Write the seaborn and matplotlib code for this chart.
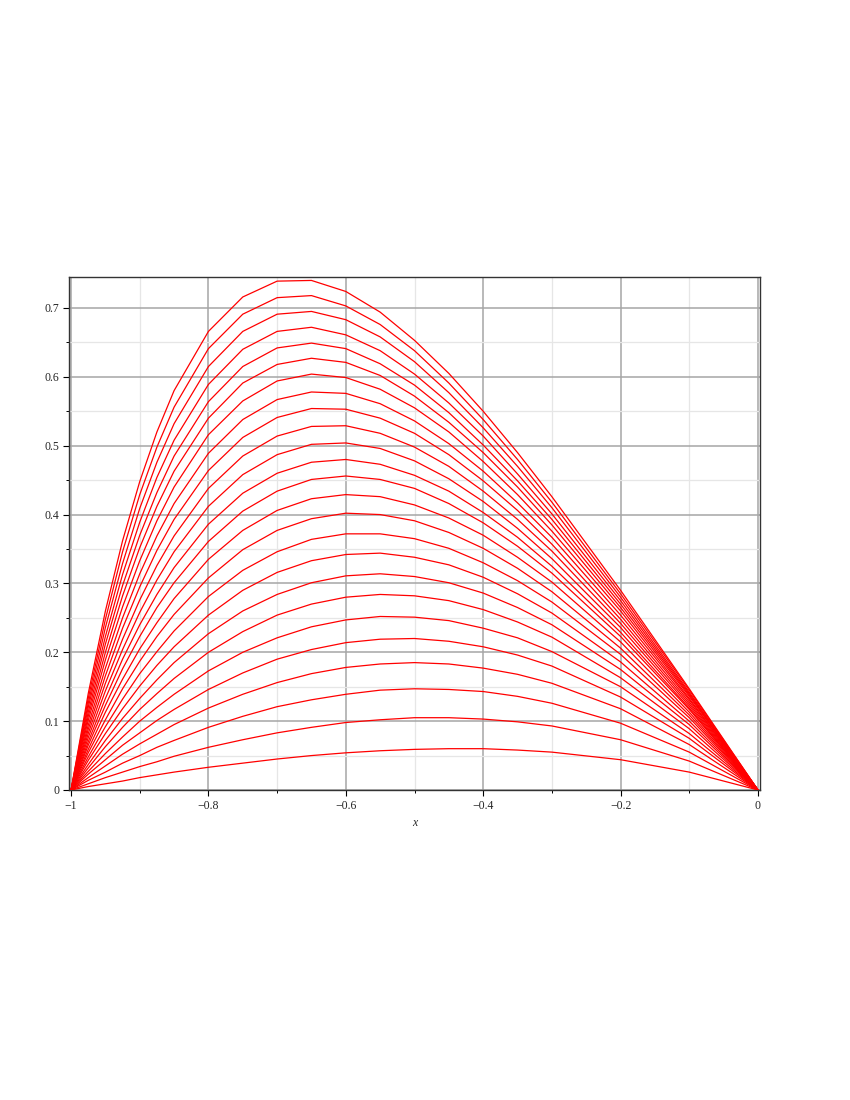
import matplotlib
matplotlib.use("Agg")
import matplotlib.pyplot as plt
from matplotlib.ticker import MultipleLocator
import pandas as pd
import seaborn as sns

# sample positions along x (both ends are 0 for every curve)
x_grid = [-1, -0.975, -0.95, -0.925, -0.9, -0.875, -0.85, -0.8, -0.75, -0.7, -0.65, -0.6,
          -0.55, -0.5, -0.45, -0.4, -0.35, -0.3, -0.2, -0.1, 0]

# curve values, bottom curve first
curve_01 = [0, .005, .009, .013, .018, .022, .026, .033, .039, .045, .050, .054, .057, .059, .060, .060, .058, .055, .044, .026, 0]
curve_02 = [0, .009, .018, .026, .034, .041, .049, .062, .073, .083, .091, .098, .102, .105, .105, .103, .099, .093, .073, .042, 0]
curve_03 = [0, .014, .026, .039, .050, .062, .072, .091, .107, .121, .131, .139, .145, .147, .146, .143, .136, .126, .097, .055, 0]
curve_04 = [0, .018, .035, .052, .067, .081, .095, .119, .139, .156, .169, .178, .183, .185, .183, .177, .168, .155, .118, .066, 0]
curve_05 = [0, .023, .044, .065, .083, .101, .117, .146, .170, .190, .204, .214, .219, .220, .216, .208, .196, .180, .135, .075, 0]
curve_06 = [0, .027, .053, .077, .100, .120, .139, .173, .200, .221, .237, .247, .252, .251, .246, .235, .221, .201, .150, .082, 0]
curve_07 = [0, .032, .063, .091, .117, .140, .162, .200, .230, .254, .270, .280, .284, .282, .275, .262, .244, .222, .163, .089, 0]
curve_08 = [0, .037, .072, .104, .133, .160, .185, .227, .260, .284, .301, .311, .314, .310, .301, .286, .265, .240, .175, .095, 0]
curve_09 = [0, .043, .082, .118, .151, .181, .208, .254, .290, .316, .333, .342, .344, .338, .327, .309, .285, .257, .186, .100, 0]
curve_10 = [0, .048, .092, .132, .169, .201, .231, .281, .319, .346, .364, .372, .372, .365, .351, .330, .304, .273, .197, .105, 0]
curve_11 = [0, .054, .102, .147, .187, .223, .255, .308, .349, .377, .394, .402, .400, .391, .374, .351, .322, .288, .206, .109, 0]
curve_12 = [0, .059, .113, .161, .205, .243, .278, .335, .377, .406, .423, .429, .426, .414, .395, .370, .338, .302, .215, .113, 0]
curve_13 = [0, .065, .123, .176, .223, .265, .301, .361, .405, .434, .451, .456, .451, .438, .416, .388, .354, .315, .223, .117, 0]
curve_14 = [0, .070, .133, .190, .240, .284, .323, .386, .431, .460, .476, .480, .473, .457, .434, .403, .367, .325, .229, .119, 0]
curve_15 = [0, .076, .144, .204, .258, .305, .346, .412, .458, .487, .502, .504, .496, .478, .452, .419, .380, .336, .236, .122, 0]
curve_16 = [0, .082, .155, .219, .276, .326, .369, .438, .485, .514, .528, .529, .518, .498, .470, .434, .393, .347, .242, .125, 0]
curve_17 = [0, .088, .166, .235, .295, .348, .393, .464, .512, .541, .554, .553, .540, .518, .487, .449, .406, .357, .248, .128, 0]
curve_18 = [0, .094, .177, .250, .314, .369, .416, .489, .538, .567, .578, .576, .561, .536, .503, .463, .417, .367, .254, .131, 0]
curve_19 = [0, .101, .189, .266, .333, .391, .440, .516, .565, .594, .604, .599, .582, .555, .520, .477, .429, .376, .260, .133, 0]
curve_20 = [0, .107, .200, .282, .352, .412, .463, .540, .591, .618, .627, .621, .602, .572, .534, .490, .440, .385, .265, .136, 0]
curve_21 = [0, .113, .212, .297, .370, .432, .485, .564, .615, .642, .649, .641, .619, .588, .548, .501, .449, .393, .270, .138, 0]
curve_22 = [0, .120, .223, .313, .389, .454, .508, .589, .640, .666, .672, .661, .638, .604, .562, .514, .459, .401, .275, .140, 0]
curve_23 = [0, .126, .236, .329, .409, .476, .532, .615, .666, .691, .695, .683, .658, .622, .577, .526, .470, .410, .280, .142, 0]
curve_24 = [0, .133, .248, .346, .429, .498, .556, .641, .691, .715, .718, .703, .676, .638, .591, .538, .480, .418, .285, .145, 0]
curve_25 = [0, .140, .260, .362, .448, .520, .580, .666, .716, .739, .740, .724, .694, .653, .605, .550, .490, .426, .290, .147, 0]

curves = [curve_01, curve_02, curve_03, curve_04, curve_05, curve_06, curve_07, curve_08, curve_09,
          curve_10, curve_11, curve_12, curve_13, curve_14, curve_15, curve_16, curve_17, curve_18,
          curve_19, curve_20, curve_21, curve_22, curve_23, curve_24, curve_25]

x_ticks = [-1, -0.8, -0.6, -0.4, -0.2, 0]
x_tick_labels = ["\u22121", "\u22120.8", "\u22120.6", "\u22120.4", "\u22120.2", "0"]
y_ticks = [0, 0.1, 0.2, 0.3, 0.4, 0.5, 0.6, 0.7]
y_tick_labels = ["0", "0.1", "0.2", "0.3", "0.4", "0.5", "0.6", "0.7"]

rows = []
for i, ys in enumerate(curves):
    for x, y in zip(x_grid, ys):
        rows.append({"x": x, "y": y, "curve": i})
df = pd.DataFrame(rows)

sns.set_style("white")
plt.rcParams["font.family"] = ["Liberation Serif", "DejaVu Serif"]

fig = plt.figure(figsize=(8.5, 11), dpi=100)
ax = fig.add_axes([69 / 850, 1 - 790 / 1100, 691 / 850, 513 / 1100])

ax.set_axisbelow(True)
sns.lineplot(data=df, x="x", y="y", hue="curve", palette=["#ff0000"] * len(curves), legend=False,
             estimator=None, sort=False, lw=0.9, ax=ax, zorder=3)

ax.set_xlim(-1.003, 0.003)
ax.set_ylim(0, 0.745)
ax.set_xticks(x_ticks, x_tick_labels)
ax.set_yticks(y_ticks, y_tick_labels)
ax.xaxis.set_minor_locator(MultipleLocator(0.1))
ax.yaxis.set_minor_locator(MultipleLocator(0.05))

ax.grid(which="major", color="#a6a6a6", lw=1.1)
ax.grid(which="minor", color="#e6e6e6", lw=0.9)

ax.tick_params(which="major", direction="out", length=4, width=0.8, color="black",
               labelsize=8.5, pad=3, bottom=True, left=True, top=False, right=False)
ax.tick_params(which="minor", direction="out", length=2, width=0.7, color="black",
               bottom=True, left=True, top=False, right=False)

for sp in ax.spines.values():
    sp.set_color("#333333")
    sp.set_linewidth(1.0)

ax.set_xlabel("x", fontsize=8.5, style="italic", labelpad=4)
ax.set_ylabel("")

fig.savefig("out.png", dpi=100)
